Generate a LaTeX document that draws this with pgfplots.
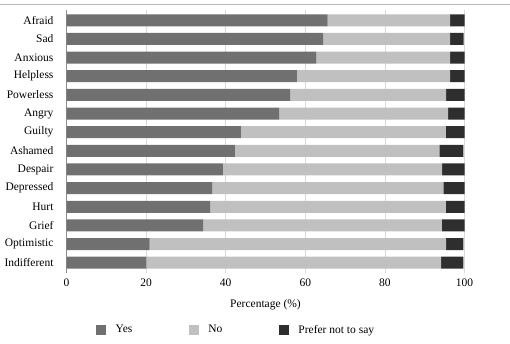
\documentclass[border=0pt]{standalone}
\usepackage{fontspec}
\setmainfont{Liberation Serif}
\usepackage{pgfplots}
\pgfplotsset{compat=1.18}
\definecolor{cyes}{HTML}{707070}
\definecolor{cno}{HTML}{C0C0C0}
\definecolor{cpref}{HTML}{2E2E2E}
\definecolor{cgrid}{HTML}{DADADA}
\begin{document}
\fontsize{11.5}{13}\selectfont
\begin{tikzpicture}
\path[use as bounding box] (0,0) rectangle (510pt,344pt);
\draw[color=black!27, line width=0.9pt] (0,340pt) -- (510pt,340pt);
\begin{axis}[
  at={(66.5pt,71pt)}, anchor=south west,
  scale only axis, width=398pt, height=263pt,
  xbar stacked, bar width=12pt,
  xmin=0, xmax=100, ymin=-0.55, ymax=13.55, y dir=reverse,
  ytick={0,...,13},
  yticklabels={Afraid,Sad,Anxious,Helpless,Powerless,Angry,Guilty,Ashamed,Despair,Depressed,Hurt,Grief,Optimistic,Indifferent},
  xtick={0,20,...,100},
  /pgf/number format/assume math mode=true,
  tick label style={font=\fontsize{11.5}{13}\selectfont},
  label style={font=\fontsize{11.5}{13}\selectfont},
  major tick length=0pt, tick style={draw=none},
  axis line style={draw=none},
  xmajorgrids, grid style={draw=cgrid, line width=0.8pt},
  yticklabel style={xshift=-9pt},
  xticklabel style={yshift=-1.5pt},
  xlabel={Percentage (\%)},
  x label style={at={(axis description cs:0.5,-0.133)}, anchor=base},
  legend columns=3,
  legend style={draw=none, at={(0.074,-0.217)}, anchor=west, inner sep=0pt,
    font=\fontsize{11.5}{13}\selectfont,
    /tikz/every odd column/.append style={column sep=7.5pt},
    /tikz/every even column/.append style={column sep=54.5pt}},
  legend cell align=left,
  legend image code/.code={\fill[#1] (0pt,-5pt) rectangle (10pt,5pt);},
]
\addplot[fill=cyes, draw=none] coordinates {
(65.6,0) (64.5,1) (62.8,2) (57.9,3) (56.2,4) (53.4,5) (43.8,6) (42.3,7) (39.3,8) (36.6,9) (36.1,10) (34.3,11) (20.9,12) (20.1,13)};
\addplot[fill=cno, draw=none] coordinates {
(30.8,0) (31.9,1) (33.6,2) (38.5,3) (39.2,4) (42.5,5) (51.5,6) (51.4,7) (55.1,8) (58.1,9) (59.2,10) (60.0,11) (74.5,12) (74.0,13)};
\addplot[fill=cpref, draw=none] coordinates {
(3.6,0) (3.4,1) (3.6,2) (3.6,3) (4.6,4) (4.1,5) (4.7,6) (6.0,7) (5.6,8) (5.3,9) (4.7,10) (5.7,11) (4.3,12) (5.6,13)};
\legend{Yes,No,Prefer not to say}
\draw[black, line width=0.9pt] (rel axis cs:0,0) -- (rel axis cs:0,1);
\end{axis}
\end{tikzpicture}
\end{document}
